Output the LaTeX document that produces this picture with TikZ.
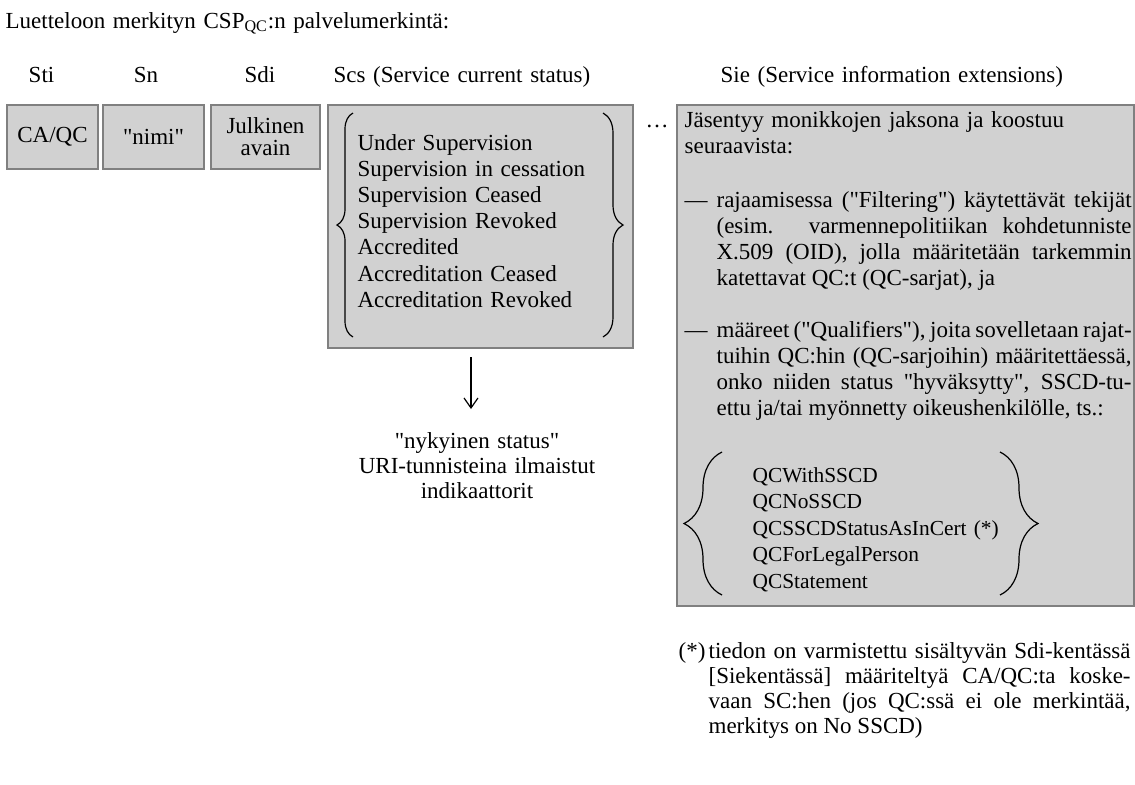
\documentclass[tikz,border=0pt]{standalone}
\usepackage{fontspec}
\setmainfont{Liberation Serif}
\usetikzlibrary{arrows.meta, decorations.pathreplacing}

\definecolor{boxgray}{gray}{0.82}
\definecolor{edgegray}{gray}{0.5}
\newcommand{\quoted}[1]{\textquotedbl#1\textquotedbl}
\newcommand{\loosespace}{\spaceskip=0.25em plus 0.8em minus 0.12em\relax}

\begin{document}
\begin{tikzpicture}[
    x=0.5pt, y=-0.5pt,
    font=\fontsize{11.5}{13.1}\selectfont,
    field box/.style={draw=edgegray, fill=boxgray, line width=1pt, inner sep=0pt, anchor=north west, align=center},
    label text/.style={inner sep=0pt, anchor=base west, align=left, text width=#1},
    label text/.default=250pt,
    head text/.style={inner sep=0pt, anchor=base},
    just text/.style={inner sep=0pt, anchor=base west, align=justify, text width=#1},
    big brace/.style={decorate, decoration={brace, amplitude=#1}, line width=0.6pt},
    >={Straight Barb[length=5pt, width=7pt]},
    line width=0.6pt
]
    \useasboundingbox (0,0) rectangle (1135,784);

    % Title and column headers
    \node[label text] (title) at (5,28) {Luetteloon merkityn CSP\textsubscript{QC}:n palvelumerkintä:};
    \node[head text] (hsti) at (41.5,82) {Sti};
    \node[head text] (hsn) at (146,82) {Sn};
    \node[head text] (hsdi) at (260,82) {Sdi};
    \node[label text=180pt] (hscs) at (333,82) {Scs (Service current status)};
    \node[label text=200pt] (hsie) at (720,82) {Sie (Service information extensions)};

    % Field boxes
    \node[field box, minimum width=45.5pt, minimum height=32pt] (sti) at (6,104) {CA/QC};
    \node[field box, minimum width=50.5pt, minimum height=32pt] (sn) at (102,104) {\quoted{nimi}};
    \node[field box, minimum width=54.5pt, minimum height=32pt, font=\fontsize{11.5}{11}\selectfont] (sdi) at (210,104) {Julkinen\\avain};
    \node[field box, minimum width=152.5pt, minimum height=121.5pt] (scs) at (327,104) {};
    \node[label text=15pt] (dots) at (645,127) {\ldots};
    \node[field box, minimum width=228.5pt, minimum height=250.5pt] (sie) at (676,104) {};

    % Scs: status values
    \draw[big brace=8pt] (353,337) -- (353,113);
    \draw[big brace=10pt] (603,113) -- (603,337);
    \node[label text=120pt] (states) at (357,150) {Under Supervision\\Supervision in cessation\\Supervision Ceased\\Supervision Revoked\\Accredited\\Accreditation Ceased\\Accreditation Revoked};

    % Arrow to status note
    \coordinate (arrowtop) at (471,357);
    \coordinate (arrowend) at (471,409);
    \draw[->] (arrowtop) -- (arrowend);
    \node[head text, align=center, text width=140pt, font=\fontsize{11.5}{12.5}\selectfont] (status) at (477,448) {\quoted{nykyinen status}\\URI-tunnisteina ilmaistut\\indikaattorit};

    % Sie: extensions
    \node[label text=215pt] (sieintro) at (684,127) {Jäsentyy monikkojen jaksona ja koostuu\\seuraavista:};
    \node[label text=16pt] (dash1) at (684,207) {—};
    \node[just text=207.5pt] (filtering) at (716,207) {\loosespace rajaamisessa (\quoted{Filtering}) käytettävät tekijät\linebreak{}(esim. varmennepolitiikan kohdetunniste\linebreak{}X.509 (OID), jolla määritetään tarkemmin\linebreak{}katettavat QC:t (QC-sarjat), ja};
    \node[label text=16pt] (dash2) at (684,337) {—};
    \node[just text=207.5pt] (qualifiers) at (716,337) {\loosespace määreet (\quoted{Qualifiers}), joita sovelletaan rajat-\linebreak{}tuihin QC:hin (QC-sarjoihin) määritettäessä,\linebreak{}onko niiden status \quoted{hyväksytty}, SSCD-tu-\linebreak{}ettu ja/tai myönnetty oikeushenkilölle, ts.:};
    \draw[big brace=19pt] (722,595) -- (722,452);
    \draw[big brace=19pt] (1000,452) -- (1000,595);
    \node[label text=170pt, font=\fontsize{10.7}{13.25}\selectfont] (qclist) at (752,482) {QCWithSSCD\\QCNoSSCD\\QCSSCDStatusAsInCert (*)\\QCForLegalPerson\\QCStatement};

    % Footnote
    \node[label text=20pt] (fnmark) at (678,658) {(*)};
    \node[just text=211pt, font=\fontsize{11.5}{12.5}\selectfont] (fntext) at (708,658) {\loosespace tiedon on varmistettu sisältyvän Sdi-kentässä\linebreak{}[Siekentässä] määriteltyä CA/QC:ta koske-\linebreak{}vaan SC:hen (jos QC:ssä ei ole merkintää,\linebreak{}merkitys on No SSCD)};
\end{tikzpicture}
\end{document}
